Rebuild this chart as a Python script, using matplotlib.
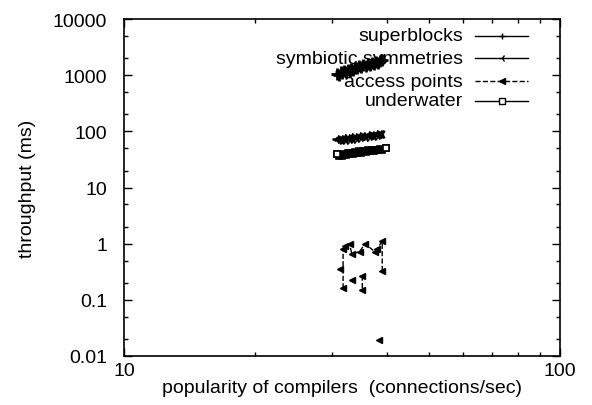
import numpy as np
import matplotlib
matplotlib.use('Agg')
import matplotlib.pyplot as plt
from matplotlib.ticker import LogLocator, NullFormatter, FixedFormatter, FixedLocator

plt.rcParams['font.family'] = ['Liberation Sans', 'DejaVu Sans']

# superblocks
sb_x = [30.8, 31.1, 31.4, 31.7, 32.0, 32.3, 32.6, 32.9, 33.2, 33.5, 33.8, 34.2, 34.6, 35.0, 35.4,
        35.8, 36.2, 36.6, 37.0, 37.4, 37.8, 38.2, 38.6, 39.0]
sb_y = [1050, 1020, 1120, 1080, 1180, 1150, 1240, 1200, 1300, 1260, 1360, 1320, 1430, 1390, 1500,
        1460, 1580, 1530, 1650, 1600, 1740, 1680, 1820, 1900]

# symbiotic symmetries
sy_x = [30.8, 31.1, 31.4, 31.7, 32.0, 32.3, 32.6, 32.9, 33.2, 33.5, 33.8, 34.2, 34.6, 35.0, 35.4,
        35.8, 36.2, 36.6, 37.0, 37.4, 37.8, 38.2, 38.6, 39.0]
sy_y = [74, 70, 73, 69, 75, 71, 76, 72, 78, 74, 80, 76, 82, 78, 83, 80, 85, 82, 87, 83, 89, 85, 91, 88]

# access points (nan = break in the line)
ap_x = [31.8, 31.8, 32.2, 32.9, 33.3, 34.7, 35.7, 37.6, 38.0, 39.1, 39.1, np.nan,
        31.3, np.nan, 33.3, np.nan, 35.2, 35.2, np.nan, 38.4]
ap_y = [0.16, 0.8, 0.91, 0.98, 0.66, 0.72, 1.0, 0.72, 0.8, 1.1, 0.32, np.nan,
        0.36, np.nan, 0.23, np.nan, 0.27, 0.15, np.nan, 0.019]

# underwater
uw_x = [30.8, 31.1, 31.4, 31.7, 32.0, 32.3, 32.6, 32.9, 33.2, 33.5, 33.8, 34.2, 34.6, 35.0, 35.4,
        35.8, 36.2, 36.6, 37.0, 37.4, 37.8, 38.2, 38.6, 39.0, 39.9]
uw_y = [39, 36, 38, 37, 40, 38, 41, 39, 42, 40, 43, 41, 44, 42, 45, 43, 46, 44, 47, 45, 47, 46, 48, 47, 50]

labels = ['superblocks', 'symbiotic symmetries', 'access points', 'underwater']

fig = plt.figure(figsize=(5.92, 4.06), dpi=100)
ax = fig.add_axes([0.2095, 0.1207, 0.7365, 0.830])

styles = [
    dict(ls='-', marker='+', ms=9, mew=2.0, mfc='black', lw=2.0),
    dict(ls='-', marker='3', ms=7, mew=1.8, mfc='black', lw=2.0),
    dict(ls='--', marker='<', ms=5, mew=1.0, mfc='black', lw=1.0),
    dict(ls='-', marker='s', ms=5, mew=1.2, mfc='black', lw=2.5),
]
series = [(sb_x, sb_y), (sy_x, sy_y), (ap_x, ap_y), (uw_x, uw_y)]
for (xs, ys), st in zip(series, styles):
    ax.plot(xs, ys, color='black', **st)
# open squares visible at the ends of the underwater bar
ax.plot([uw_x[0], uw_x[-1]], [uw_y[0], uw_y[-1]], ls='none', marker='s', ms=5,
        mfc='white', mec='black', mew=1.2)

ax.set_xscale('log')
ax.set_yscale('log')
ax.set_xlim(10, 100)
ax.set_ylim(0.01, 10000)

ax.xaxis.set_major_locator(FixedLocator([10, 100]))
ax.xaxis.set_major_formatter(FixedFormatter(['10', '100']))
ax.xaxis.set_minor_locator(LogLocator(base=10, subs=np.arange(2, 10)))
ax.xaxis.set_minor_formatter(NullFormatter())
yt = [0.01, 0.1, 1, 10, 100, 1000, 10000]
ax.yaxis.set_major_locator(FixedLocator(yt))
ax.yaxis.set_major_formatter(FixedFormatter(['0.01', '0.1', '1', '10', '100', '1000', '10000']))
ax.yaxis.set_minor_locator(LogLocator(base=10, subs=[2, 5]))
ax.yaxis.set_minor_formatter(NullFormatter())

ax.tick_params(which='both', direction='in', top=True, right=True, labelsize=14, width=1)
ax.tick_params(which='major', length=6)
ax.tick_params(which='minor', length=3)
ax.tick_params(axis='x', pad=4)
ax.tick_params(axis='y', pad=12)
for s in ax.spines.values():
    s.set_linewidth(1.2)

ax.set_ylabel('throughput (ms)', fontsize=14, labelpad=12)
ax.set_xlabel('popularity of compilers  (connections/sec)', fontsize=14, labelpad=0)

# gnuplot-style key: text right-aligned, sample line on the right
rows = [0.950, 0.884, 0.816, 0.757]
for lab, st, yy in zip(labels, styles, rows):
    ax.text(0.778, yy, lab, transform=ax.transAxes, ha='right', va='center', fontsize=14)
    ax.plot([0.805, 0.927], [yy, yy], transform=ax.transAxes, color='black', lw=1.0, ls=st['ls'])
    ax.plot([0.866], [yy], transform=ax.transAxes, color='black', marker=st['marker'],
            ms=5, mew=1.0, mfc='white' if st['marker'] == 's' else 'black', ls='none')

fig.savefig('out.png', dpi=100)
